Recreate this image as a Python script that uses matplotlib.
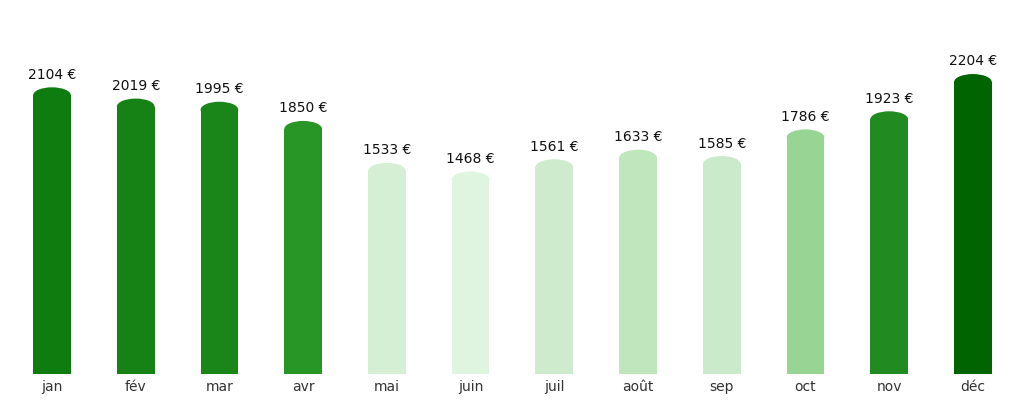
import numpy as np
import matplotlib.pyplot as plt
from matplotlib.patches import Ellipse

months = ['jan', 'fév', 'mar', 'avr', 'mai', 'juin', 'juil', 'août', 'sep', 'oct', 'nov', 'déc']
values = [2104, 2019, 1995, 1850, 1533, 1468, 1561, 1633, 1585, 1786, 1923, 2204]
colors = ['#0f7c0f', '#168216', '#1a861a', '#279627', '#d4efd4', '#dff5df',
          '#ceeccd', '#bfe6bd', '#cbeacb', '#98d594', '#218b21', '#006400']

fig = plt.figure(figsize=(10.24, 4.03), dpi=100)
ax = fig.add_axes([0, 0.072, 1, 0.928])

x = np.arange(len(months))
w = 0.45
cap = 120  # ellipse height in data units

ax.bar(x, values, width=w, color=colors, zorder=2)
for xi, v, c in zip(x, values, colors):
    ax.add_patch(Ellipse((xi, v), w, cap, facecolor=c, edgecolor='none', zorder=3))
    ax.annotate(f'{v} €', (xi, v + cap / 2), xytext=(0, 4), textcoords='offset points',
                ha='center', va='bottom', fontsize=10, color='#111111')

ax.set_xlim(-0.621, 11.61)
ax.set_ylim(0, 2823)
ax.set_xticks(x)
ax.set_xticklabels(months, fontsize=10, color='#333333')
ax.tick_params(axis='x', length=0, pad=4)
ax.set_yticks([])
for s in ax.spines.values():
    s.set_visible(False)

fig.savefig('out.png', dpi=100)
